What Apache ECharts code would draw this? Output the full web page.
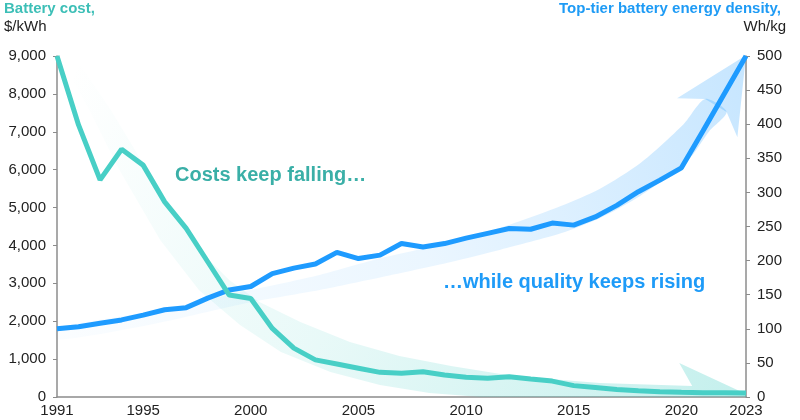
<!DOCTYPE html>
<html style="height: 100%">
<head>
<meta charset="utf-8">
</head>
<body style="height: 100%; margin: 0; background: #fff">
<div id="container" style="width: 800px; height: 420px"></div>
<script type="text/javascript" src="https://cdn.jsdelivr.net/npm/echarts@6.0.0/dist/echarts.min.js"></script>
<script type="text/javascript">
// years on the x axis
var years = [];
for (var y = 1991; y <= 2023; y++) years.push(y);
// battery cost, $/kWh
var cost = [9000, 7180, 5730, 6540, 6120, 5150, 4450, 3570, 2690, 2600,
            1810, 1290, 980, 870, 760, 650, 625, 665, 580, 520,
            495, 535, 475, 420, 300, 250, 200, 165, 140, 125,
            115, 115, 105];
// top-tier energy density, Wh/kg
var density = [100, 103, 108, 113, 120, 128, 131, 145, 157, 162,
               181, 189, 195, 212, 203, 208, 225, 220, 225, 233,
               240, 247, 246, 255, 252, 264, 281, 301, 318, 336,
               390, 445, 500];
var xTicks = [1991, 1995, 2000, 2005, 2010, 2015, 2020, 2023];

// decorative arrows, outline given as [year, value] on each axis
var costArrow = [
  [1991.8, 9000], [1993.5, 7575], [1994.9, 6255], [1996.3, 4935], [1997.6, 3880],
  [1999.0, 3090], [2000.4, 2510], [2002.3, 1980], [2004.6, 1450], [2006.9, 1080],
  [2009.3, 820], [2011.6, 610], [2013.9, 475], [2016.2, 370], [2020.5, 290],
  [2019.9, 900], [2023.0, 80], [2023.0, 0],
  [2016.2, 0], [2010.7, 0], [2008.3, 105], [2006.0, 315], [2003.7, 660],
  [2001.4, 1190], [1999.5, 1900], [1997.6, 2820], [1995.8, 4140], [1993.9, 5990],
  [1992.5, 7575], [1991.1, 9000]
];
// shaft of the density arrow (upper edge, then lower edge back)
var densityShaft = [
  [1991.0, 101], [1995.3, 125], [2000.0, 157], [2003.2, 179], [2006.1, 204],
  [2009.3, 227], [2011.6, 248], [2014.4, 280], [2016.2, 305], [2018.1, 343],
  [2020.1, 400], [2021.1, 437],
  [2022.1, 418], [2021.3, 390], [2020.3, 347], [2018.1, 295], [2016.2, 262],
  [2014.4, 240], [2011.6, 216], [2009.3, 198], [2006.1, 176], [2003.2, 157],
  [2000.0, 139], [1995.3, 106], [1991.0, 84]
];
// head of the density arrow
var densityHead = [
  [2021.1, 437], [2019.8, 438], [2023.0, 501], [2022.6, 381], [2022.1, 418]
];

var dom = document.getElementById('container');
var myChart = echarts.init(dom);

var teal = '#48cfc6';
var blue = '#1e9bff';
var font = 'Liberation Sans, Arial, sans-serif';

var option = {
  backgroundColor: '#ffffff',
  animation: false,
  grid: { left: 57, right: 54, top: 56, bottom: 23 },
  xAxis: {
    type: 'value',
    min: 1991,
    max: 2023,
    axisLine: { lineStyle: { color: '#8c8c8c', width: 1.5 } },
    axisTick: { show: false },
    splitLine: { show: false },
    axisLabel: {
      customValues: xTicks,
      color: '#222',
      fontSize: 15,
      fontFamily: font,
      margin: 6,
      formatter: function (v) { return String(v); }
    }
  },
  yAxis: [
    {
      type: 'value',
      min: 0, max: 9000, interval: 1000,
      axisLine: { show: true, lineStyle: { color: '#8c8c8c', width: 1.5 } },
      axisTick: { show: true, length: 4, lineStyle: { color: '#8c8c8c' } },
      splitLine: { show: false },
      axisLabel: {
        color: '#222', fontSize: 15, fontFamily: font, margin: 11,
        formatter: function (v) { return v.toLocaleString('en-US'); }
      }
    },
    {
      type: 'value',
      min: 0, max: 500, interval: 50,
      position: 'right',
      axisLine: { show: true, lineStyle: { color: '#8c8c8c', width: 1.5 } },
      axisTick: { show: true, length: 4, lineStyle: { color: '#8c8c8c' } },
      splitLine: { show: false },
      axisLabel: { color: '#222', fontSize: 15, fontFamily: font, margin: 11 }
    }
  ],
  graphic: [
    { type: 'text', left: 4, top: 1,
      style: { text: 'Battery cost,', fill: '#3dbfb7', font: 'bold 15px ' + font } },
    { type: 'text', left: 4, top: 19,
      style: { text: '$/kWh', fill: '#222', font: '15px ' + font } },
    { type: 'text', right: 19, top: 1,
      style: { text: 'Top-tier battery energy density,', fill: '#1e9bf5', font: 'bold 15px ' + font } },
    { type: 'text', right: 14, top: 19,
      style: { text: 'Wh/kg', fill: '#222', font: '15px ' + font } },
    { type: 'text', left: 175, top: 165, z: 10,
      style: { text: 'Costs keep falling\u2026', fill: '#3aafa7', font: 'bold 20px ' + font } },
    { type: 'text', left: 443, top: 272, z: 10,
      style: { text: '\u2026while quality keeps rising', fill: '#1e9bf8', font: 'bold 20px ' + font } }
  ],
  series: [
    {
      // falling cost arrow
      type: 'custom',
      yAxisIndex: 0,
      silent: true,
      z: 1,
      data: [0],
      renderItem: function (params, api) {
        var pts = costArrow.map(function (p) { return api.coord(p); });
        var a = api.coord([1992, 9000]), b = api.coord([2023, 0]);
        return {
          type: 'polygon',
          shape: { points: pts },
          style: {
            fill: new echarts.graphic.LinearGradient(a[0], a[1], b[0], b[1], [
              { offset: 0, color: 'rgba(72,207,198,0.0)' },
              { offset: 0.45, color: 'rgba(72,207,198,0.12)' },
              { offset: 1, color: 'rgba(72,207,198,0.32)' }
            ], true)
          }
        };
      }
    },
    {
      // rising density arrow
      type: 'custom',
      yAxisIndex: 1,
      silent: true,
      z: 1,
      data: [0],
      renderItem: function (params, api) {
        var a = api.coord([1991, 100]), b = api.coord([2023, 500]);
        var grad = new echarts.graphic.LinearGradient(a[0], a[1], b[0], b[1], [
          { offset: 0, color: 'rgba(30,155,255,0.02)' },
          { offset: 0.5, color: 'rgba(30,155,255,0.09)' },
          { offset: 1, color: 'rgba(30,155,255,0.25)' }
        ], true);
        return {
          type: 'group',
          children: [
            { type: 'polygon',
              shape: { points: densityShaft.map(function (p) { return api.coord(p); }), smooth: 0.25 },
              style: { fill: grad } },
            { type: 'polygon',
              shape: { points: densityHead.map(function (p) { return api.coord(p); }) },
              style: { fill: grad } }
          ]
        };
      }
    },
    {
      name: 'Energy density',
      type: 'line',
      yAxisIndex: 1,
      data: years.map(function (yr, i) { return [yr, density[i]]; }),
      showSymbol: false,
      lineStyle: { color: blue, width: 5 },
      z: 3
    },
    {
      name: 'Battery cost',
      type: 'line',
      yAxisIndex: 0,
      data: years.map(function (yr, i) { return [yr, cost[i]]; }),
      showSymbol: false,
      lineStyle: { color: teal, width: 5 },
      z: 4
    }
  ]
};
myChart.setOption(option, true);
</script>
</body>
</html>
